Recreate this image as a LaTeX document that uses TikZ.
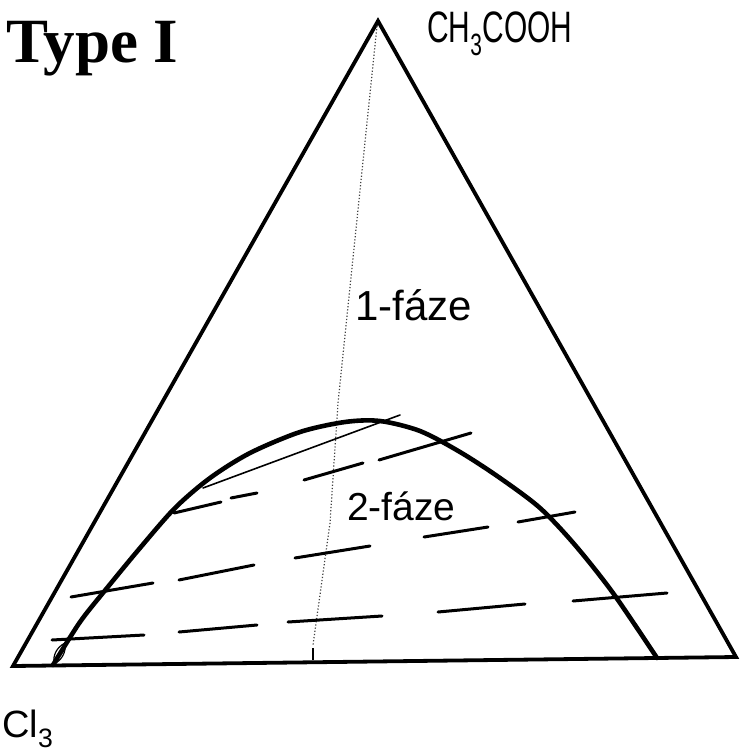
\documentclass[tikz,border=0pt]{standalone}
\usepackage{fontspec}
\setmainfont{Liberation Serif}
\setsansfont{Liberation Sans}
\tikzset{
  side/.style={line width=3.8pt, line join=miter},
  binodal/.style={line width=4.6pt, line cap=round},
  tie/.style={line width=3pt, line cap=round},
  tiethin/.style={line width=1.6pt, line cap=round},
  guide/.style={dotted, line width=1.2pt, black!75},
  hand/.style={font=\sffamily, inner sep=0pt, anchor=base west},
}
\newcommand{\fsz}[1]{\fontsize{#1}{#1}\selectfont}

\begin{document}
\begin{tikzpicture}[x=1pt, y=-1pt]
  \useasboundingbox (0,0) rectangle (739,754);
  \coordinate (top) at (378,21);
  \coordinate (left) at (13,666);
  \coordinate (right) at (736,657);
  \draw[side] (left) -- (top) -- (right) -- cycle;

  % dotted guide from the apex
  \draw[guide] (377,26) -- (338,403) -- (330,523) -- (313,645);
  \draw[line width=2.5pt] (313,648) -- (313,660);

  % binodal curve
  \draw[binodal] plot[smooth, tension=0.5] coordinates {(53,665) (80,622) (107,588) (140,548) (175,508) (210,478) (250,453) (300,432) (345,422) (380,421) (420,431) (460,452) (500,478) (540,508) (575,545) (613,593) (657,658)};
  \draw[line width=1.2pt] (54,664) to[bend left=35] (65,643) to[bend left=35] (54,664);

  % tie lines
  \draw[tiethin] (203,488) -- (400,415);
  \foreach \xa/\ya/\xb/\yb in {174/513/221/502, 231/498/257/493, 304/480/363/463, 379/460/471/433,
      71/597/153/583, 179/580/254/565, 295/558/370/546, 424/537/488/527, 518/522/575/512,
      52/640/144/635, 179/632/257/625, 288/622/382/616, 438/612/525/604, 573/601/667/593}
    \draw[tie] (\xa,\ya) -- (\xb,\yb);

  % labels
  \node[font=\bfseries\fsz{63}, inner sep=0pt, anchor=base west] (title) at (6,63) {Type I};
  \node[hand] (acid) at (427,43) {\fsz{44}\scalebox{0.68}[1]{CH\textsubscript{3}COOH}};
  \node[hand] (one) at (355,320) {\fsz{42}1-fáze};
  \node[hand] (two) at (347,520) {\fsz{39}2-fáze};
  \node[hand] (chl) at (2,737) {\fsz{38}Cl\textsubscript{3}};
\end{tikzpicture}
\end{document}
